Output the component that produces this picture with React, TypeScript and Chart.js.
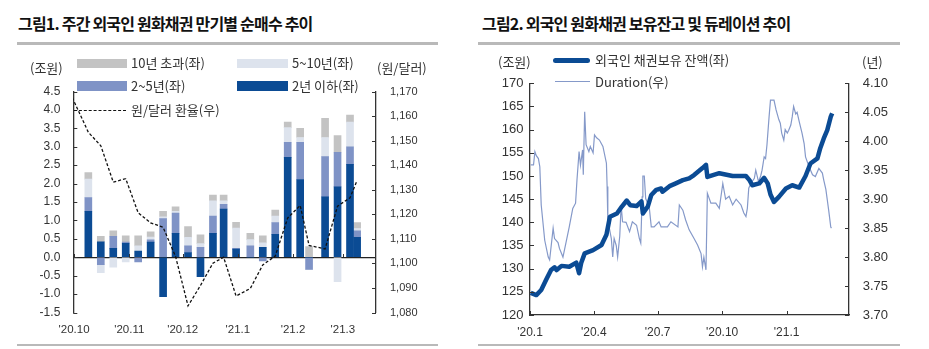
import React, { useEffect, useRef } from "react";
import { Chart, registerables } from "chart.js";

Chart.register(...registerables);

const SANS = '"Liberation Sans", Arial, "Noto Sans CJK KR", sans-serif';
const KR = '"Noto Sans CJK KR", "Liberation Sans", sans-serif';

// ---------- Figure 1: weekly net purchase by maturity (trillion won) ----------
const weekDates = [
  "2020-10-09", "2020-10-16", "2020-10-23", "2020-10-30", "2020-11-06", "2020-11-13",
  "2020-11-20", "2020-11-27", "2020-12-04", "2020-12-11", "2020-12-18", "2020-12-24",
  "2020-12-31", "2021-01-08", "2021-01-15", "2021-01-22", "2021-01-29", "2021-02-05",
  "2021-02-10", "2021-02-19", "2021-02-26", "2021-03-05", "2021-03-09",
];
const under2y = [1.25, 0.42, 0.24, 0.38, 0.17, 0.41, -1.07, 0.65, 0.13, -0.53, 0.65, 1.31, 0.22, 0.0, 0.27, 0.62, 2.71, 2.11, 0.0, 1.64, 1.91, 2.52, 0.54];
const y2to5 = [0.37, -0.2, 0.33, 0.03, -0.13, 0.06, 1.05, 0.55, 0.18, 0.27, 0.47, 0.13, 0.02, 0.31, -0.1, 0.32, 0.41, 1.01, -0.33, 1.09, 0.94, 0.48, 0.18];
const y5to10 = [0.5, -0.22, -0.27, -0.13, 0.14, 0.08, 0.05, 0.05, 0.23, 0.1, 0.41, 0.09, 0.55, 0.17, 0.12, 0.18, 0.4, 0.13, 0.0, 0.52, -0.66, 0.67, 0.06];
const over10y = [0.18, 0.15, 0.15, 0.17, 0.27, 0.14, 0.15, 0.12, 0.29, 0.24, 0.16, 0.16, 0.16, 0.17, 0.19, 0.16, 0.15, 0.25, 0.29, 0.52, 0.45, 0.19, 0.16];

const fxDates = [
  "2020-09-30", "2020-10-09", "2020-10-16", "2020-10-23", "2020-10-30", "2020-11-06",
  "2020-11-13", "2020-11-20", "2020-11-27", "2020-12-04", "2020-12-11", "2020-12-18",
  "2020-12-24", "2020-12-31", "2021-01-08", "2021-01-15", "2021-01-22", "2021-01-29",
  "2021-02-05", "2021-02-10", "2021-02-19", "2021-02-26", "2021-03-05", "2021-03-09",
];
const fxRates = [1167.5, 1153.4, 1147.9, 1133.1, 1134.5, 1120.6, 1116.5, 1114.7, 1102.8, 1082.7, 1091.0, 1100.1, 1102.5, 1086.7, 1089.8, 1099.4, 1103.0, 1118.5, 1123.6, 1107.3, 1105.9, 1123.3, 1126.7, 1133.8];

const monthTicks = ["2020-10-01", "2020-11-01", "2020-12-01", "2021-01-01", "2021-02-01", "2021-03-01"];
const monthLabels = ["'20.10", "'20.11", "'20.12", "'21.1", "'21.2", "'21.3"];

// ---------- Figure 2: foreign holdings (trillion won) and duration (years) ----------
const holdDates = [
  "2020-01-02", "2020-01-10", "2020-01-17", "2020-01-24", "2020-01-31", "2020-02-05", "2020-02-08",
  "2020-02-15", "2020-02-26", "2020-03-07", "2020-03-11", "2020-03-14", "2020-03-19", "2020-03-31",
  "2020-04-12", "2020-04-19", "2020-04-24", "2020-05-04", "2020-05-11", "2020-05-18", "2020-05-23",
  "2020-06-01", "2020-06-08", "2020-06-10", "2020-06-17", "2020-06-22", "2020-06-29", "2020-07-06",
  "2020-07-08", "2020-07-18", "2020-07-27", "2020-08-06", "2020-08-15", "2020-08-22", "2020-09-03",
  "2020-09-08", "2020-09-10", "2020-09-27", "2020-10-16", "2020-11-04", "2020-11-09", "2020-11-13",
  "2020-11-23", "2020-11-30", "2020-12-05", "2020-12-09", "2020-12-14", "2020-12-21", "2020-12-31",
  "2021-01-09", "2021-01-19", "2021-01-28", "2021-02-04", "2021-02-14", "2021-02-18", "2021-02-23",
  "2021-02-28", "2021-03-05", "2021-03-07",
];
const holdValues = [
  124.8, 124.3, 125.4, 127.6, 129.7, 130.3, 129.7, 130.6, 130.4, 131.3, 129.0, 131.2, 133.3, 134.0,
  135.1, 137.3, 141.2, 141.9, 143.4, 144.7, 143.7, 143.5, 144.5, 141.9, 143.4, 145.9, 147.0, 147.3,
  146.6, 147.8, 148.4, 149.1, 149.5, 150.2, 151.7, 152.4, 149.8, 150.6, 150.0, 150.0, 149.1, 148.0,
  148.4, 149.6, 148.4, 146.0, 144.4, 145.5, 147.3, 148.0, 147.5, 150.0, 152.7, 153.8, 156.0, 158.1,
  159.9, 162.8, 163.5,
];

const durDates = [
  "2020-01-02", "2020-01-06", "2020-01-08", "2020-01-10", "2020-01-13", "2020-01-15", "2020-01-17",
  "2020-01-22", "2020-01-27", "2020-01-29", "2020-02-03", "2020-02-05", "2020-02-10", "2020-02-12",
  "2020-02-17", "2020-02-22", "2020-02-26", "2020-03-02", "2020-03-06", "2020-03-08", "2020-03-11",
  "2020-03-13", "2020-03-16", "2020-03-17", "2020-03-19", "2020-03-21", "2020-03-25", "2020-03-27",
  "2020-03-31", "2020-04-02", "2020-04-05", "2020-04-09", "2020-04-14", "2020-04-19", "2020-04-20",
  "2020-04-21", "2020-04-26", "2020-04-28", "2020-04-30", "2020-05-03", "2020-05-05", "2020-05-08",
  "2020-05-10", "2020-05-12", "2020-05-17", "2020-05-22", "2020-05-26", "2020-06-01", "2020-06-05",
  "2020-06-07", "2020-06-09", "2020-06-10", "2020-06-12", "2020-06-14", "2020-06-19", "2020-06-22",
  "2020-06-26", "2020-07-03", "2020-07-06", "2020-07-15", "2020-07-20", "2020-07-30", "2020-08-01",
  "2020-08-06", "2020-08-10", "2020-08-15", "2020-08-22", "2020-08-27", "2020-09-01", "2020-09-03",
  "2020-09-05", "2020-09-08", "2020-09-10", "2020-09-15", "2020-09-22", "2020-09-27", "2020-10-02",
  "2020-10-06", "2020-10-11", "2020-10-16", "2020-10-21", "2020-10-28", "2020-11-01", "2020-11-04",
  "2020-11-06", "2020-11-08", "2020-11-11", "2020-11-16", "2020-11-18", "2020-11-22", "2020-11-25",
  "2020-11-27", "2020-11-30", "2020-12-02", "2020-12-04", "2020-12-07", "2020-12-09", "2020-12-14",
  "2020-12-17", "2020-12-21", "2020-12-23", "2020-12-25", "2020-12-28", "2020-12-30", "2021-01-02",
  "2021-01-04", "2021-01-07", "2021-01-09", "2021-01-11", "2021-01-14", "2021-01-16", "2021-01-19",
  "2021-01-23", "2021-01-26", "2021-01-28", "2021-02-02", "2021-02-07", "2021-02-11", "2021-02-16",
  "2021-02-21", "2021-02-23", "2021-02-26", "2021-02-28", "2021-03-02", "2021-03-05", "2021-03-06",
];
const durValues = [
  3.959, 3.959, 3.982, 3.975, 3.97, 3.956, 3.89, 3.829, 3.8, 3.795, 3.85, 3.832, 3.825, 3.815,
  3.8, 3.829, 3.852, 3.884, 3.893, 3.933, 3.982, 3.959, 3.985, 3.942, 4.051, 3.994, 3.982, 3.991,
  3.98, 4.011, 4.006, 4.002, 3.991, 3.962, 3.922, 3.864, 3.832, 3.8, 3.832, 3.82, 3.8, 3.836,
  3.89, 3.861, 3.86, 3.844, 3.861, 3.855, 3.832, 3.824, 3.904, 3.94, 3.94, 3.901, 3.887, 3.852,
  3.852, 3.861, 3.852, 3.852, 3.861, 3.852, 3.89, 3.881, 3.864, 3.847, 3.832, 3.821, 3.806, 3.783,
  3.8, 3.778, 3.91, 3.893, 3.893, 3.884, 3.927, 3.9, 3.905, 3.89, 3.9, 3.89, 3.876, 3.87,
  3.884, 3.919, 3.927, 3.936, 3.95, 3.93, 3.94, 3.95, 3.973, 3.97, 3.994, 4.042, 4.071, 4.071,
  4.054, 4.037, 4.031, 4.014, 4.002, 4.02, 4.014, 4.019, 4.028, 4.042, 4.06, 4.047, 4.05, 4.034,
  4.014, 3.996, 3.973, 3.956, 3.942, 3.939, 3.953, 3.945, 3.933, 3.917, 3.899, 3.881, 3.852, 3.85,
];

const quarterTicks = ["2020-01-01", "2020-04-01", "2020-07-01", "2020-10-01", "2021-01-01"];
const quarterLabels = ["'20.1", "'20.4", "'20.7", "'20.10", "'21.1"];

// ---------- helpers ----------
const DAY = 864e5;
const daysSince = (base: string) => (s: string) => (Date.parse(s) - Date.parse(base)) / DAY;
const d1 = daysSince("2020-10-01");
const d2 = daysSince("2020-01-01");

const C_DARK = "#0b4b94";
const C_MED = "#7f93c6";
const C_LIGHT = "#dde3ed";
const C_GRAY = "#c3c3c3";
const C_DUR = "#8599c9";
const AXIS = "#333333";

const insideTicks = {
  id: "insideTicks",
  afterDatasetsDraw(chart: any, _a: any, opts: any) {
    const { ctx, chartArea } = chart;
    ctx.save();
    ctx.strokeStyle = opts.color || AXIS;
    ctx.lineWidth = 1;
    ctx.beginPath();
    (opts.yAxes || []).forEach((id: string) => {
      const s = chart.scales[id];
      s.ticks.forEach((t: any) => {
        const y = Math.round(s.getPixelForValue(t.value)) + 0.5;
        if (s.position === "left") {
          ctx.moveTo(chartArea.left, y);
          ctx.lineTo(chartArea.left + opts.len, y);
        } else {
          ctx.moveTo(chartArea.right, y);
          ctx.lineTo(chartArea.right - opts.len, y);
        }
      });
    });
    if (opts.xAxis) {
      const s = chart.scales[opts.xAxis];
      const base = opts.xBase
        ? Math.round(chart.scales[opts.xBase.axis].getPixelForValue(opts.xBase.value))
        : chartArea.bottom;
      s.ticks.forEach((t: any) => {
        const x = Math.round(s.getPixelForValue(t.value)) + 0.5;
        ctx.moveTo(x, base);
        ctx.lineTo(x, base - opts.xLen);
      });
    }
    ctx.stroke();
    ctx.restore();
  },
};

function Figure1() {
  const ref = useRef<HTMLCanvasElement>(null);
  useEffect(() => {
    const bar = (label: string, vals: number[], color: string) => ({
      type: "bar",
      label,
      data: weekDates.map((d, i) => ({ x: d1(d), y: vals[i] })),
      backgroundColor: color,
      borderWidth: 0,
      barThickness: 7,
      stack: "s",
      yAxisID: "y",
      order: 1,
    });
    const chart = new Chart(ref.current as HTMLCanvasElement, {
      type: "bar",
      data: {
        datasets: [
          bar("2년 이하(좌)", under2y, C_DARK),
          bar("2~5년(좌)", y2to5, C_MED),
          bar("5~10년(좌)", y5to10, C_LIGHT),
          bar("10년 초과(좌)", over10y, C_GRAY),
          {
            type: "line",
            label: "원/달러 환율(우)",
            data: fxDates.map((d, i) => ({ x: d1(d), y: fxRates[i] })),
            borderColor: "#111",
            borderWidth: 1.3,
            borderDash: [3, 2],
            pointRadius: 0,
            tension: 0,
            yAxisID: "y2",
            order: 0,
          } as any,
        ],
      } as any,
      options: {
        responsive: false,
        animation: false,
        devicePixelRatio: 1,
        layout: { padding: { top: 91.5, left: 0, right: 0, bottom: 0 } },
        plugins: {
          legend: { display: false },
          tooltip: { enabled: false },
          insideTicks: { yAxes: ["y", "y2"], len: 4, xAxis: "x", xBase: { axis: "y", value: 0 }, xLen: 3, color: AXIS },
        } as any,
        scales: {
          x: {
            type: "linear",
            offset: false,
            min: -0.45,
            max: 169.6,
            stacked: true,
            grid: { display: false, drawTicks: false },
            border: { display: false },
            afterBuildTicks: (s: any) => {
              s.ticks = monthTicks.map((m) => ({ value: d1(m) }));
            },
            afterFit: (s: any) => {
              s.height = 36.5;
            },
            ticks: {
              autoSkip: false,
              maxRotation: 0,
              padding: 10,
              color: AXIS,
              font: { family: SANS, size: 11.5 },
              callback: (_v: any, i: number) => monthLabels[i],
            },
          },
          y: {
            position: "left",
            stacked: true,
            min: -1.5,
            max: 4.5,
            grid: {
              drawTicks: false,
              color: (c: any) => (c.tick && c.tick.value === 0 ? "#222" : "rgba(0,0,0,0)"),
              lineWidth: 1.3,
            },
            border: { display: true, color: AXIS, width: 1.3 },
            afterFit: (s: any) => {
              s.width = 73.3;
            },
            ticks: {
              stepSize: 0.5,
              padding: 13,
              color: AXIS,
              font: { family: SANS, size: 12 },
              callback: (v: any) => Number(v).toFixed(1),
            },
          },
          y2: {
            position: "right",
            min: 1080,
            max: 1170,
            grid: { display: false, drawTicks: false },
            border: { display: true, color: AXIS, width: 1.3 },
            afterFit: (s: any) => {
              s.width = 89;
            },
            ticks: {
              stepSize: 10,
              padding: 14,
              color: AXIS,
              font: { family: SANS, size: 11 },
              callback: (v: any) => Number(v).toLocaleString("en-US"),
            },
          },
        } as any,
      },
      plugins: [insideTicks as any],
    });
    return () => chart.destroy();
  }, []);
  return (
    <canvas
      ref={ref}
      width={465}
      height={349}
      style={{ position: "absolute", left: 0, top: 0, width: 465, height: 349 }}
    />
  );
}

function Figure2() {
  const ref = useRef<HTMLCanvasElement>(null);
  useEffect(() => {
    const chart = new Chart(ref.current as HTMLCanvasElement, {
      type: "line",
      data: {
        datasets: [
          {
            label: "외국인 채권보유 잔액(좌)",
            data: holdDates.map((d, i) => ({ x: d2(d), y: holdValues[i] })),
            borderColor: C_DARK,
            borderWidth: 4.5,
            pointRadius: 0,
            tension: 0,
            borderJoinStyle: "round",
            yAxisID: "y",
            order: 0,
          },
          {
            label: "Duration(우)",
            data: durDates.map((d, i) => ({ x: d2(d), y: durValues[i] })),
            borderColor: C_DUR,
            borderWidth: 1.2,
            pointRadius: 0,
            tension: 0,
            yAxisID: "y2",
            order: 1,
          },
        ],
      } as any,
      options: {
        responsive: false,
        animation: false,
        devicePixelRatio: 1,
        layout: { padding: { top: 83.3, left: 0, right: 0, bottom: 0 } },
        plugins: {
          legend: { display: false },
          tooltip: { enabled: false },
          insideTicks: { yAxes: ["y", "y2"], len: 4, xAxis: "x", xLen: 4, color: AXIS },
        } as any,
        scales: {
          x: {
            type: "linear",
            offset: false,
            min: 0,
            max: d2("2021-03-31"),
            grid: { display: false, drawTicks: false },
            border: { display: true, color: AXIS, width: 1.3 },
            afterBuildTicks: (s: any) => {
              s.ticks = quarterTicks.map((q) => ({ value: d2(q) }));
            },
            afterFit: (s: any) => {
              s.height = 34;
            },
            ticks: {
              autoSkip: false,
              maxRotation: 0,
              padding: 10.5,
              color: AXIS,
              font: { family: SANS, size: 12 },
              callback: (_v: any, i: number) => quarterLabels[i],
            },
          },
          y: {
            position: "left",
            min: 120,
            max: 170,
            grid: { display: false, drawTicks: false },
            border: { display: true, color: AXIS, width: 1.3 },
            afterFit: (s: any) => {
              s.width = 65;
            },
            ticks: {
              stepSize: 5,
              padding: 6.5,
              color: AXIS,
              font: { family: SANS, size: 13 },
            },
          },
          y2: {
            position: "right",
            min: 3.7,
            max: 4.1,
            grid: { display: false, drawTicks: false },
            border: { display: true, color: AXIS, width: 1.3 },
            afterFit: (s: any) => {
              s.width = 80;
            },
            ticks: {
              stepSize: 0.05,
              padding: 13.7,
              color: AXIS,
              font: { family: SANS, size: 13 },
              callback: (v: any) => Number(v).toFixed(2),
            },
          },
        } as any,
      },
      plugins: [insideTicks as any],
    });
    return () => chart.destroy();
  }, []);
  return (
    <canvas
      ref={ref}
      width={464}
      height={349}
      style={{ position: "absolute", left: 465, top: 0, width: 464, height: 349 }}
    />
  );
}

const txt = (left: number, cy: number, size: number, extra: any = {}) => ({
  position: "absolute" as const,
  left,
  top: cy - size * 0.6,
  fontSize: size,
  lineHeight: `${size * 1.2}px`,
  whiteSpace: "nowrap" as const,
  color: "#333",
  fontFamily: KR,
  ...extra,
});

const box = (left: number, top: number, w: number, h: number, bg: string, extra: any = {}) => ({
  position: "absolute" as const,
  left,
  top,
  width: w,
  height: h,
  background: bg,
  ...extra,
});

export default function App() {
  return (
    <div
      style={{
        position: "fixed",
        left: 0,
        top: 0,
        width: 929,
        height: 349,
        background: "#fff",
        overflow: "hidden",
        fontFamily: KR,
      }}
    >
      {/* Figure 1 frame */}
      <div style={txt(18, 24, 16, { fontWeight: 700, color: "#111", letterSpacing: "-0.8px" })}>
        그림1. 주간 외국인 원화채권 만기별 순매수 추이
      </div>
      <div style={box(17, 41.5, 421, 3, "#b9b9b9")} />
      <div style={box(17, 343.5, 421, 2, "#b9b9b9")} />

      {/* Figure 2 frame */}
      <div style={txt(482, 24, 16, { fontWeight: 700, color: "#111", letterSpacing: "-0.8px" })}>
        그림2. 외국인 원화채권 보유잔고 및 듀레이션 추이
      </div>
      <div style={box(478, 41.5, 422, 3, "#b9b9b9")} />
      <div style={box(478, 343.5, 422, 2, "#b9b9b9")} />

      <Figure1 />
      <Figure2 />

      {/* Figure 1 axis titles & legend */}
      <div style={txt(30, 68, 13)}>(조원)</div>
      <div style={txt(377, 68, 13)}>(원/달러)</div>
      <div style={box(77, 58.5, 50, 9.5, C_GRAY)} />
      <div style={txt(131, 63, 13)}>10년 초과(좌)</div>
      <div style={box(237, 58.5, 51, 9.5, C_LIGHT)} />
      <div style={txt(292, 63, 13)}>5~10년(좌)</div>
      <div style={box(77, 81, 50, 9.5, C_MED)} />
      <div style={txt(131, 86, 13)}>2~5년(좌)</div>
      <div style={box(237, 81, 51, 9.5, C_DARK)} />
      <div style={txt(292, 86, 13)}>2년 이하(좌)</div>
      <div style={box(74, 109.5, 52, 0, "transparent", { borderTop: "1.3px dashed #111" })} />
      <div style={txt(131, 110, 13)}>원/달러 환율(우)</div>

      {/* Figure 2 axis titles & legend */}
      <div style={txt(498, 62, 13)}>(조원)</div>
      <div style={txt(862, 62, 13)}>(년)</div>
      <div style={box(553, 57.5, 37, 5, C_DARK, { borderRadius: 2.5 })} />
      <div style={txt(595, 60, 13)}>외국인 채권보유 잔액(좌)</div>
      <div style={box(555, 81, 35, 1.3, C_DUR)} />
      <div style={txt(595, 82, 13)}>Duration(우)</div>
    </div>
  );
}
